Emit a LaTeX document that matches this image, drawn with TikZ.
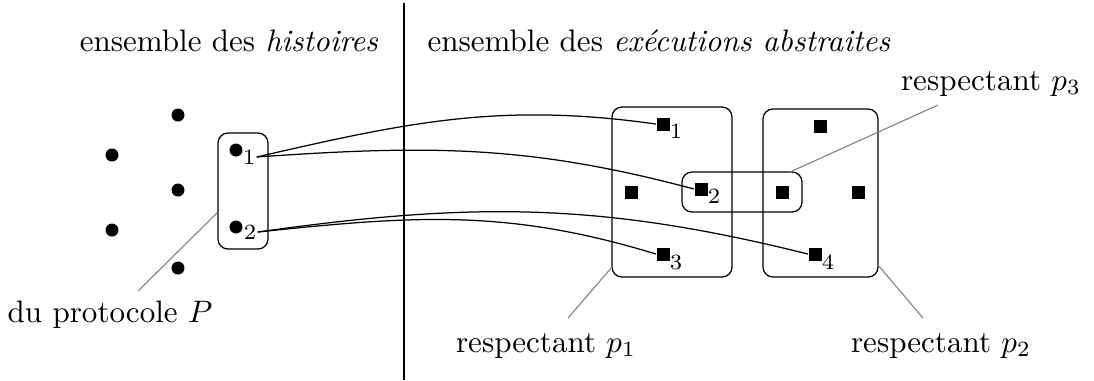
\documentclass[tikz,border=0pt]{standalone}
\usepackage{amssymb}
\begin{document}
\begin{tikzpicture}[x=0.322pt,y=-0.322pt,
  dot/.style={circle,fill=black,inner sep=0pt,minimum size=13*0.322pt},
  sq/.style={rectangle,fill=black,inner sep=0pt,minimum size=13*0.322pt},
  sub/.style={inner sep=0.3pt,font=\scriptsize},
  grp/.style={draw,rounded corners=3.2pt,line width=0.4pt},
  callout/.style={draw=gray,line width=0.35pt},
  link/.style={draw,line width=0.4pt},
  lbl/.style={anchor=base,inner sep=0pt}]
\useasboundingbox (0,0) rectangle (1094,380);
% separator
\draw[line width=0.4pt] (404,3) -- (404,380);
% headings
\node[lbl] (th) at (229,51) {ensemble des \textit{histoires}};
\node[lbl] (te) at (659,51) {ensemble des \textit{exécutions abstraites}};
% histories
\node[dot] (a1) at (178,115) {};
\node[dot] (a2) at (112,155) {};
\node[dot] (a3) at (178,190) {};
\node[dot] (a4) at (112,230) {};
\node[dot] (a5) at (178,268) {};
\node[dot] (h1) at (236,150) {};
\node[sub] (h1s) at (249,157) {$1$};
\node[dot] (h2) at (236,227) {};
\node[sub] (h2s) at (250,232) {$2$};
\draw[grp] (218,133) rectangle (268,249);
\coordinate (hb) at (218,212);
% abstract executions
\node[sq] (s1) at (663,124) {};
\node[sub] (s1s) at (676,131) {$1$};
\node[sq] (s2) at (701,189) {};
\node[sub] (s2s) at (714,196) {$2$};
\node[sq] (s3) at (663,254) {};
\node[sub] (s3s) at (676,262) {$3$};
\node[sq] (s4) at (815,254) {};
\node[sub] (s4s) at (828,262) {$4$};
\node[sq] (b1) at (631,192) {};
\node[sq] (b2) at (782,192) {};
\node[sq] (b3) at (858,192) {};
\node[sq] (b4) at (820,126) {};
\draw[grp] (612,107) rectangle (732,277);
\draw[grp] (763,109) rectangle (878,277);
\draw[grp] (682,172) rectangle (802,212);
\coordinate (p1c) at (612,267);
\coordinate (p2c) at (878,265);
\coordinate (p3c) at (790,172);
% connectors
\draw[link] (h1s.east) to[out=13,in=172] (s1.west);
\draw[link] (h1s.east) to[out=4,in=165] (s2.west);
\draw[link] (h2s.east) to[out=6,in=163] (s3.west);
\draw[link] (h2s.east) to[out=8,in=166] (s4.west);
% labels
\node[lbl] (lP) at (110,322) {du protocole $P$};
\node[lbl] (l1) at (546,352) {respectant $p_1$};
\node[lbl] (l2) at (941,352) {respectant $p_2$};
\node[lbl] (l3) at (991,90) {respectant $p_3$};
\coordinate (lPc) at (138,291);
\coordinate (l1c) at (568,318);
\coordinate (l2c) at (923,318);
\coordinate (l3c) at (938,105);
\draw[callout] (hb) -- (lPc);
\draw[callout] (p1c) -- (l1c);
\draw[callout] (p2c) -- (l2c);
\draw[callout] (p3c) -- (l3c);
\end{tikzpicture}
\end{document}
